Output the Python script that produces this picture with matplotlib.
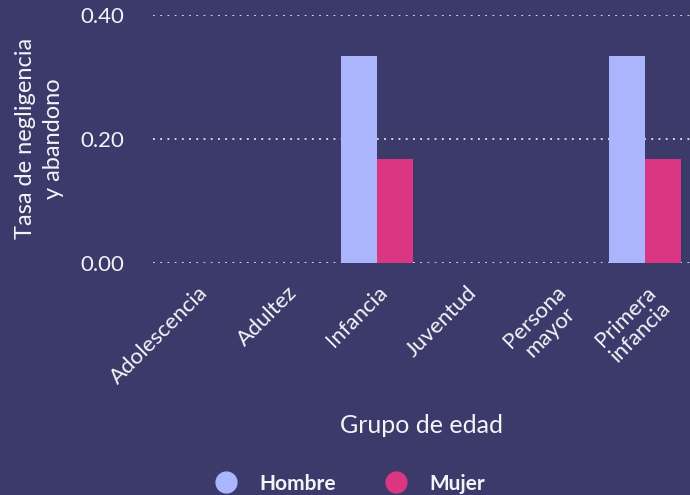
import numpy as np
import matplotlib
matplotlib.use("Agg")
import matplotlib.pyplot as plt
from matplotlib.lines import Line2D

grupos = ["Adolescencia", "Adultez", "Infancia", "Juventud", "Persona\nmayor", "Primera\ninfancia"]
hombre = [0, 0, 0.333, 0, 0, 0.333]
mujer = [0, 0, 0.167, 0, 0, 0.167]
y_ticks = [0.0, 0.2, 0.4]

BG = "#3b3a6a"
C_H = "#abb5fe"
C_M = "#db3681"
TXT = "#f4f4f8"

plt.rcParams["font.family"] = ["Lato", "DejaVu Sans"]

fig = plt.figure(figsize=(6.9, 4.95), dpi=100, facecolor=BG)
ax = fig.add_axes([0.222, 0.469, 0.778, 0.501], facecolor=BG)

x = np.arange(len(grupos))
w = 0.4
ax.bar(x - w / 2, hombre, w, color=C_H, zorder=3)
ax.bar(x + w / 2, mujer, w, color=C_M, zorder=3)

ax.set_xlim(-0.5, len(grupos) - 0.5)
ax.set_ylim(0, 0.4)
ax.set_yticks(y_ticks)
ax.set_yticklabels([f"{v:.2f}" for v in y_ticks], color=TXT, fontsize=16)
ax.set_xticks(x)
ax.set_xticklabels(grupos, rotation=45, ha="right", rotation_mode="anchor",
                   color=TXT, fontsize=16, multialignment="center", linespacing=1.1)
ax.tick_params(length=0)
ax.tick_params(axis="y", pad=21)
ax.tick_params(axis="x", pad=14)
for s in ax.spines.values():
    s.set_visible(False)
ax.grid(axis="y", color="#e6e6ee", ls=(0, (1, 3)), lw=1.3, zorder=1)
ax.set_axisbelow(True)

ax.set_ylabel("Tasa de negligencia\ny abandono", color=TXT, fontsize=17,
              linespacing=1.45, va="center")
ax.yaxis.set_label_coords(-0.212, 0.5)
ax.set_xlabel("Grupo de edad", color=TXT, fontsize=18, labelpad=19)

handles = [Line2D([], [], marker="o", ls="", ms=15, color=C_H),
           Line2D([], [], marker="o", ls="", ms=15, color=C_M)]
leg = fig.legend(handles, ["Hombre", "Mujer"], loc="lower center", ncol=2,
                 bbox_to_anchor=(0.5, -0.035), frameon=False, fontsize=15,
                 handletextpad=0.6, columnspacing=1.9)
for t in leg.get_texts():
    t.set_color(TXT)
    t.set_fontweight("bold")

fig.savefig("out.png", dpi=100, facecolor=BG)
